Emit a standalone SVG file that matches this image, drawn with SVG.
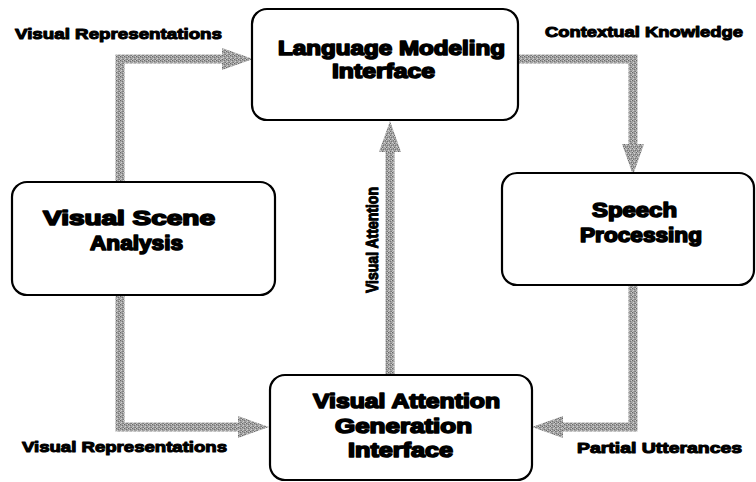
<svg xmlns="http://www.w3.org/2000/svg" width="756" height="482" viewBox="0 0 756 482">
  <defs>
    <!-- halftone-like grey used by the flow bands -->
    <pattern id="grain" width="4" height="4" patternUnits="userSpaceOnUse">
      <rect width="4" height="4" fill="#a2a2a2"/>
      <rect x="0" y="0" width="1" height="1" fill="#666666"/>
      <rect x="2" y="1" width="1" height="1" fill="#747474"/>
      <rect x="1" y="2" width="1" height="1" fill="#d0d0d0"/>
      <rect x="3" y="3" width="1" height="1" fill="#7a7a7a"/>
      <rect x="3" y="0" width="1" height="1" fill="#cccccc"/>
      <rect x="0" y="3" width="1" height="1" fill="#c4c4c4"/>
      <rect x="2" y="3" width="1" height="1" fill="#888888"/>
    </pattern>
    <marker id="head" markerUnits="userSpaceOnUse" markerWidth="32" markerHeight="24"
            viewBox="0 -12 32 24" refX="0" refY="0" orient="auto" overflow="visible">
      <path d="M0,-11 L31,0 L0,11 Z" fill="url(#grain)"/>
    </marker>
    <style>
      .box { fill: #ffffff; stroke: #000000; stroke-width: 2.2; }
      .title { font-family: "Liberation Sans", Arial, sans-serif; font-weight: bold; font-size: 20px;
               fill: #000000; stroke: #000000; stroke-width: 1.6; stroke-linejoin: round; }
      .label { font-family: "Liberation Sans", Arial, sans-serif; font-weight: bold; font-size: 15.5px;
               fill: #000000; stroke: #000000; stroke-width: 1.1; stroke-linejoin: round; }
      .flow { fill: none; stroke: url(#grain); stroke-width: 9; stroke-linejoin: miter; }
    </style>
  </defs>

  <rect width="756" height="482" fill="#ffffff"/>

  <!-- flow bands between the modules -->
  <g id="connectors">
    <path class="flow" d="M120,182 L120,59 L222,59" marker-end="url(#head)"/>
    <path class="flow" d="M120,295 L120,427 L238,427" marker-end="url(#head)"/>
    <path class="flow" d="M518,59 L633,59 L633,144" marker-end="url(#head)"/>
    <path class="flow" d="M633,285 L633,427 L563,427" marker-end="url(#head)"/>
    <path class="flow" d="M390,375 L390,152" marker-end="url(#head)"/>
  </g>

  <g id="language-modeling">
    <rect class="box" x="252" y="9" width="266" height="111" rx="15"/>
    <text class="title" x="278" y="55" textLength="227" lengthAdjust="spacingAndGlyphs">Language Modeling</text>
    <text class="title" x="332" y="78" textLength="103" lengthAdjust="spacingAndGlyphs">Interface</text>
  </g>

  <g id="visual-scene">
    <rect class="box" x="12" y="182" width="263" height="113" rx="15"/>
    <text class="title" x="43" y="225" textLength="172" lengthAdjust="spacingAndGlyphs">Visual Scene</text>
    <text class="title" x="90" y="250" textLength="93" lengthAdjust="spacingAndGlyphs">Analysis</text>
  </g>

  <g id="speech-processing">
    <rect class="box" x="502" y="173" width="252" height="112" rx="15"/>
    <text class="title" x="592" y="217" textLength="85" lengthAdjust="spacingAndGlyphs">Speech</text>
    <text class="title" x="580" y="242" textLength="122" lengthAdjust="spacingAndGlyphs">Processing</text>
  </g>

  <g id="visual-attention-generation">
    <rect class="box" x="270" y="375" width="262" height="105" rx="15"/>
    <text class="title" x="313" y="408" textLength="187" lengthAdjust="spacingAndGlyphs">Visual Attention</text>
    <text class="title" x="335" y="433" textLength="137" lengthAdjust="spacingAndGlyphs">Generation</text>
    <text class="title" x="348" y="457" textLength="105" lengthAdjust="spacingAndGlyphs">Interface</text>
  </g>

  <!-- flow labels -->
  <g id="labels">
    <text class="label" x="15" y="39" textLength="207" lengthAdjust="spacingAndGlyphs">Visual Representations</text>
    <text class="label" x="545" y="37" textLength="198" lengthAdjust="spacingAndGlyphs">Contextual Knowledge</text>
    <text class="label" x="22" y="452" textLength="205" lengthAdjust="spacingAndGlyphs">Visual Representations</text>
    <text class="label" x="577" y="453" textLength="165" lengthAdjust="spacingAndGlyphs">Partial Utterances</text>
    <text class="label" transform="translate(378,293) rotate(-90)" x="0" y="0" textLength="106" lengthAdjust="spacingAndGlyphs" style="font-size:17px">Visual Attention</text>
  </g>
</svg>
